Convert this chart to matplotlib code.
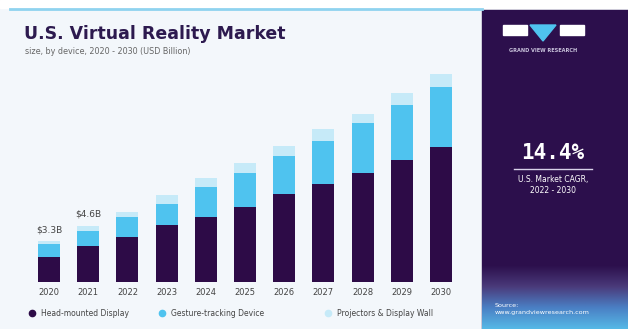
import matplotlib.pyplot as plt
import matplotlib.patches as mpatches
from matplotlib.colors import LinearSegmentedColormap
import numpy as np

# Data (USD Billion)
years = ['2020', '2021', '2022', '2023', '2024', '2025', '2026', '2027', '2028', '2029', '2030']
head_mounted = [2.1, 3.0, 3.7, 4.7, 5.4, 6.2, 7.3, 8.1, 9.0, 10.1, 11.1]
gesture_tracking = [1.0, 1.2, 1.7, 1.7, 2.4, 2.8, 3.1, 3.5, 4.1, 4.5, 5.0]
projectors = [0.25, 0.4, 0.4, 0.8, 0.8, 0.8, 0.8, 1.0, 0.8, 1.0, 1.1]
series_names = ['Head-mounted Display', 'Gesture-tracking Device', 'Projectors & Display Wall']
bar_labels = {0: '$3.3B', 1: '$4.6B'}

DARK = '#2d0b47'
BLUE = '#4fc3ef'
LIGHT = '#c6eaf8'
PANEL = '#2c0f4c'
BG = '#f3f7fb'

W, H = 628, 329
fig = plt.figure(figsize=(W / 100, H / 100), dpi=100, facecolor=BG)


def fx(px):
    return px / W


def fy(py):
    return 1 - py / H


# top stripe
fig.add_artist(mpatches.Rectangle((0, fy(8)), 1, fy(0) - fy(8), transform=fig.transFigure,
                                  color='white', zorder=0))
fig.add_artist(plt.Line2D([fx(10), fx(482)], [fy(8.5), fy(8.5)], transform=fig.transFigure,
                          color='#8fd3ef', lw=2))

# right panel
fig.add_artist(mpatches.Rectangle((fx(482), 0), 1 - fx(482), fy(10), transform=fig.transFigure,
                                  color=PANEL, zorder=1))
grad = np.linspace(0, 1, 100).reshape(-1, 1)
gax = fig.add_axes([fx(482), 0, 1 - fx(482), fy(266)], zorder=2)
cmap = LinearSegmentedColormap.from_list('g', [PANEL, '#4a3a7a', '#4a7fc4', '#56b8e6'])
gax.imshow(grad, aspect='auto', extent=[0, 1, 0, 1], origin='upper', cmap=cmap)
gax.axis('off')

# logo
fig.add_artist(mpatches.Rectangle((fx(503), fy(35)), fx(24), fy(25) - fy(35), transform=fig.transFigure,
                                  color='white', zorder=3))
fig.add_artist(mpatches.Rectangle((fx(560), fy(35)), fx(24), fy(25) - fy(35), transform=fig.transFigure,
                                  color='white', zorder=3))
fig.add_artist(mpatches.Polygon([[fx(530), fy(25)], [fx(556), fy(25)], [fx(543), fy(41)]],
                                transform=fig.transFigure, color=BLUE, zorder=3))
fig.text(fx(543), fy(51), 'GRAND VIEW RESEARCH', color='#c9c3dc', fontsize=3.6,
         ha='center', va='center', fontweight='bold', zorder=4)

fig.text(fx(553), fy(153), '14.4%', color='white', fontsize=15, fontweight='bold',
         ha='center', va='center', family='DejaVu Sans Mono', zorder=4)
fig.add_artist(plt.Line2D([fx(514), fx(592)], [fy(169), fy(169)], transform=fig.transFigure,
                          color='#d9d2ea', lw=1, zorder=4))
fig.text(fx(553), fy(185), 'U.S. Market CAGR,\n2022 - 2030', color='white', fontsize=5.5,
         ha='center', va='center', linespacing=1.4, zorder=4)
fig.text(fx(495), fy(309), 'Source:\nwww.grandviewresearch.com', color='white', fontsize=4.6,
         ha='left', va='center', linespacing=1.6, zorder=4)

# titles
fig.text(fx(24), fy(34), 'U.S. Virtual Reality Market', color='#2d1a4f', fontsize=12.5,
         fontweight='bold', ha='left', va='center')
fig.text(fx(25), fy(52), 'size, by device, 2020 - 2030 (USD Billion)', color='#666666', fontsize=5.8,
         ha='left', va='center')

# bar chart
spacing = 39.2
left_px = 49 - 0.5 * spacing
right_px = 441 + 0.5 * spacing
ax = fig.add_axes([fx(left_px), fy(282), fx(right_px - left_px), fy(60) - fy(282)])
ax.set_facecolor('none')
x = np.arange(len(years))
width = 0.56
ax.bar(x, head_mounted, width, color=DARK, label=series_names[0])
bottom2 = np.array(head_mounted)
ax.bar(x, gesture_tracking, width, bottom=bottom2, color=BLUE, label=series_names[1])
bottom3 = bottom2 + np.array(gesture_tracking)
ax.bar(x, projectors, width, bottom=bottom3, color=LIGHT, label=series_names[2])
totals = bottom3 + np.array(projectors)
for i, lab in bar_labels.items():
    ax.text(x[i], totals[i] + 0.6, lab, ha='center', va='bottom', fontsize=6.5, color='#444444')

ax.set_xlim(-0.5, len(years) - 0.5)
ax.set_ylim(0, (282 - 60) * 0.0825)
ax.set_xticks(x)
ax.set_xticklabels(years, fontsize=6, color='#444444')
ax.tick_params(axis='x', length=0, pad=4)
ax.set_yticks([])
for s in ax.spines.values():
    s.set_visible(False)

# legend
leg_items = [(32, DARK), (162, BLUE), (328, LIGHT)]
for (px, col), name in zip(leg_items, series_names):
    fig.add_artist(plt.Line2D([fx(px)], [fy(313)], transform=fig.transFigure, marker='o',
                              markersize=4.5, color=col, lw=0))
    fig.text(fx(px + 9), fy(313), name, fontsize=5.5, color='#444444', ha='left', va='center')

fig.savefig('out.png', dpi=100, facecolor=BG)
